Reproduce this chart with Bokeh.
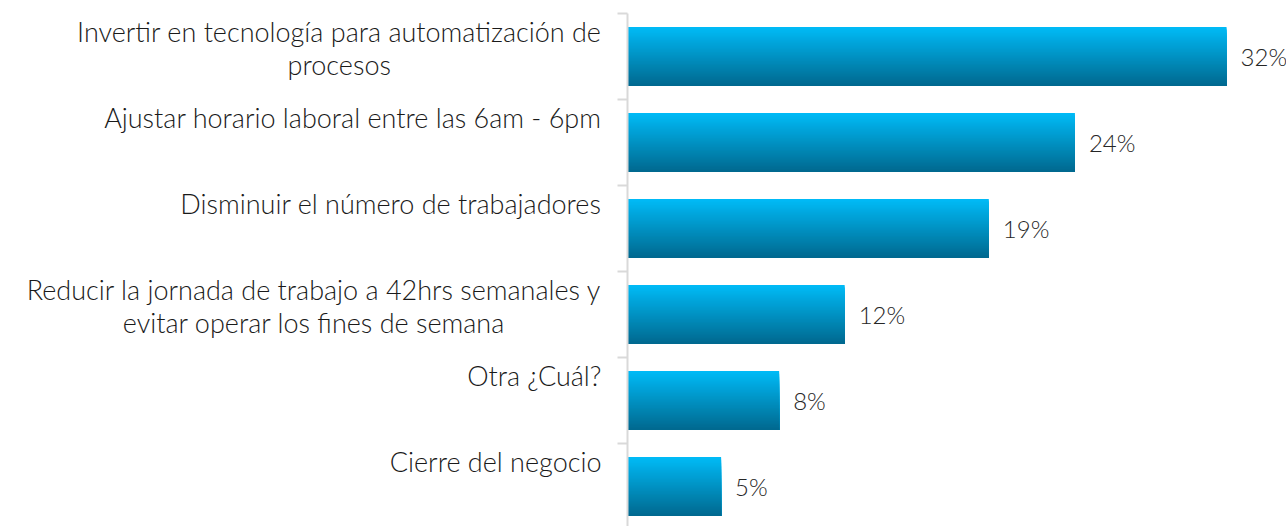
import numpy as np
from bokeh.plotting import figure
from bokeh.models import Range1d
from bokeh.core.properties import value
from bokeh.embed import file_html
from bokeh.resources import INLINE

# ---- data ----
categories = [
    "Invertir en tecnología para automatización de\nprocesos",
    "Ajustar horario laboral entre las 6am - 6pm",
    "Disminuir el número de trabajadores",
    "Reducir la jornada de trabajo a 42hrs semanales y\nevitar operar los fines de semana",
    "Otra ¿Cuál?",
    "Cierre del negocio",
]
values = [32.0, 23.9, 19.3, 11.6, 8.1, 5.0]
value_labels = [f"{round(v)}%" for v in values]

# ---- layout constants (pixels) ----
W, H = 1286, 526
AXIS_PX = 627          # x pixel of the value axis inside the figure
PX_PER_UNIT = 18.72    # pixels per percentage point
TOP_PX = 13            # top of first band
BAND_PX = 86           # band height
BAR_PX = 59            # bar thickness

xs = -AXIS_PX / PX_PER_UNIT
xe = (W - AXIS_PX) / PX_PER_UNIT
ye = TOP_PX / BAND_PX
ys = -(H - TOP_PX) / BAND_PX

p = figure(width=W, height=H, x_range=Range1d(xs, xe), y_range=Range1d(ys, ye),
           output_backend="svg", toolbar_location=None, min_border=0)
p.axis.visible = False
p.grid.visible = False
p.outline_line_color = None
p.background_fill_color = "white"
p.border_fill_color = "white"

n = len(categories)
idx = np.arange(n)
centers = -(idx + 0.5)
h = BAR_PX / BAND_PX
bar_bottom = centers - h / 2

# gradient bars: stacked rectangles, each reaching the bar bottom
N = 40
top_rgb = np.array([0, 187, 247])
bot_rgb = np.array([0, 104, 142])
for k in range(N):
    t = (k + 0.5) / N
    c = top_rgb + (bot_rgb - top_rgb) * t
    col = "#%02x%02x%02x" % tuple(int(round(v)) for v in c)
    top_k = centers + h / 2 - k * h / N
    p.quad(left=0, right=values, top=top_k, bottom=bar_bottom,
           fill_color=col, line_color=None)

# axis line and tick marks at band boundaries
p.segment(x0=[0], y0=[0], x1=[0], y1=[-n], line_color="#d9d9d9", line_width=2)
bounds = -np.arange(n)
p.segment(x0=[-10 / PX_PER_UNIT] * n, y0=bounds, x1=[0] * n, y1=bounds,
          line_color="#d9d9d9", line_width=2)

FONT = value("'Lato Light', Lato")

# category labels
lab_x = -26 / PX_PER_UNIT
p.text(x=[lab_x] * n, y=-idx - 1 / BAND_PX, text=categories,
       anchor="top_right", text_align="center",
       text_font=FONT, text_font_size="27px", text_line_height=1.02,
       text_color="#1a1a1a")

# value labels
vx = np.array(values) + 14 / PX_PER_UNIT
p.text(x=vx, y=centers, text=value_labels, text_align="left", text_baseline="middle",
       text_font=FONT, text_font_size="24px", text_color="#262626")

open("out.html", "w").write(file_html(p, INLINE))
